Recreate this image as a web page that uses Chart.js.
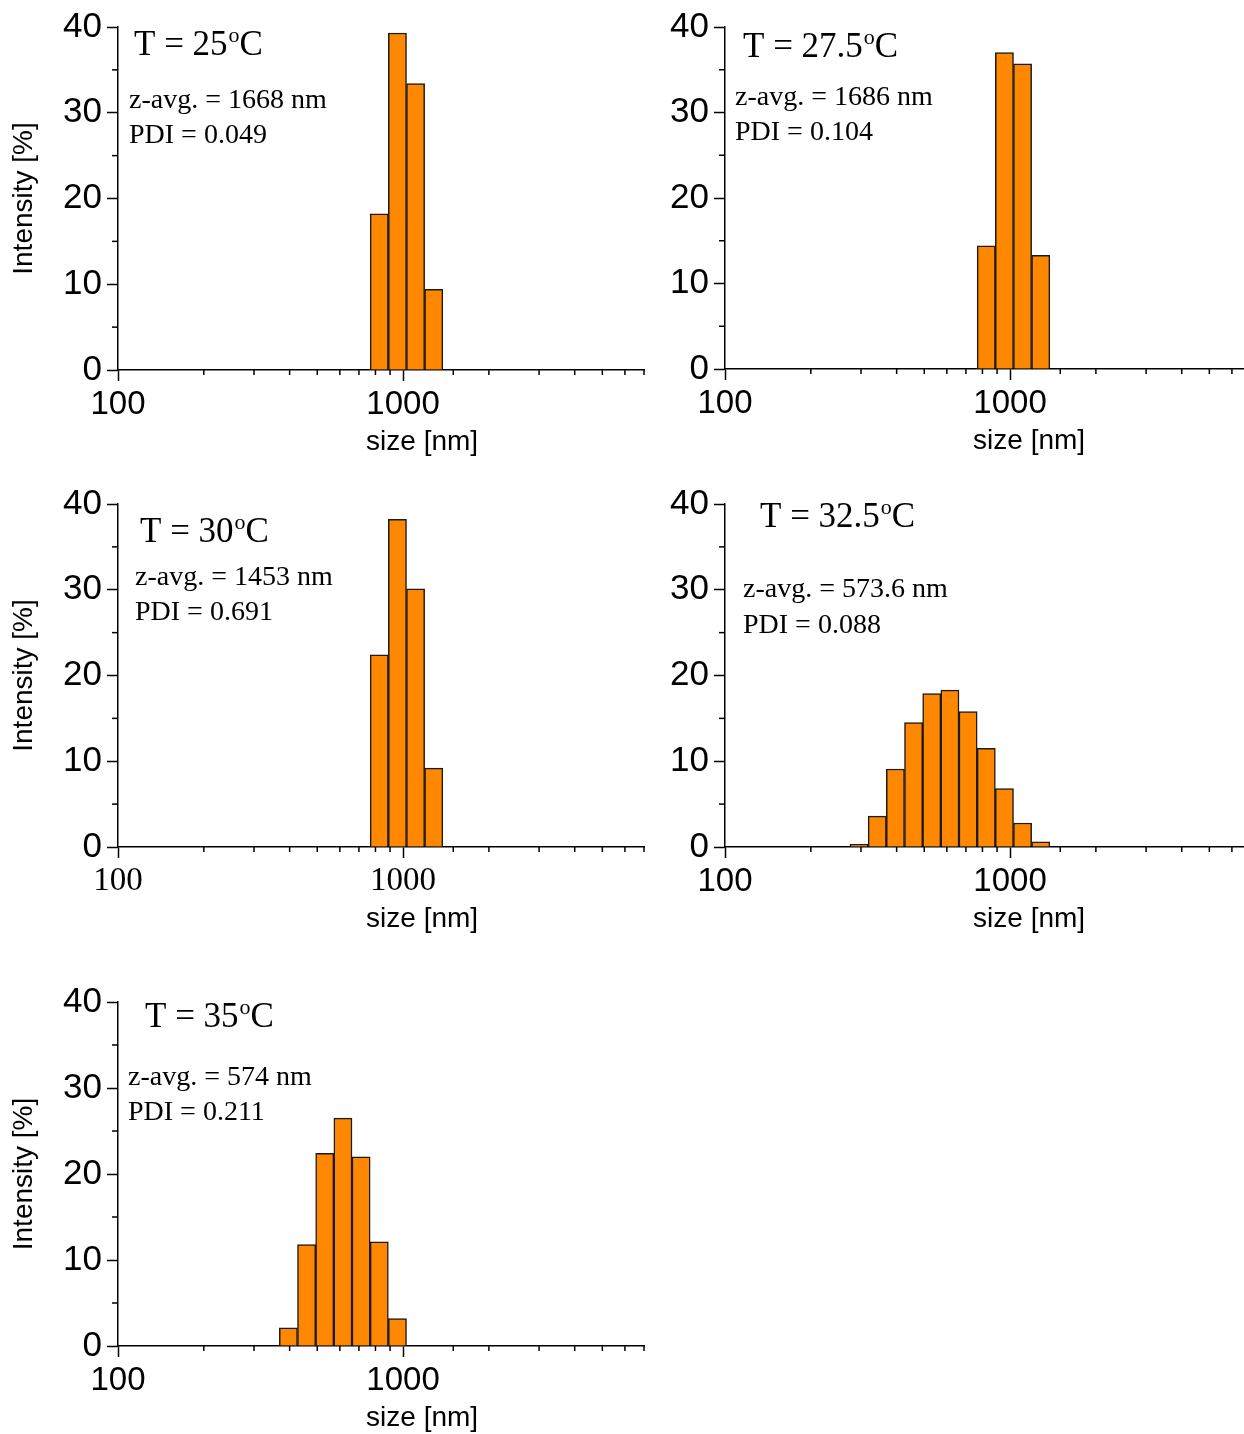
<!DOCTYPE html>
<html>
<head>
<meta charset="utf-8">
<script src="https://cdn.jsdelivr.net/npm/chart.js@4.4.0/dist/chart.umd.min.js"></script>
<style>
  html, body { margin: 0; padding: 0; background: #fff; overflow: hidden; }
  body { width: 1244px; height: 1434px; position: relative; }
  canvas { position: absolute; }
</style>
</head>
<body>
<canvas id="c1" width="660" height="470" style="left:0;top:0"></canvas>
<canvas id="c2" width="660" height="470" style="left:610px;top:0"></canvas>
<canvas id="c3" width="660" height="470" style="left:0;top:477px"></canvas>
<canvas id="c4" width="660" height="470" style="left:610px;top:477px"></canvas>
<canvas id="c5" width="660" height="459" style="left:0;top:975px"></canvas>
<script>
// DLS size distributions (intensity %), Malvern size classes in nm
const temps = ['25', '27.5', '30', '32.5', '35'];
const zAvg = ['1668', '1686', '1453', '573.6', '574'];
const pdi = ['0.049', '0.104', '0.691', '0.088', '0.211'];

const sizes25 = [825.0, 955.4, 1106, 1281];
const intensity25 = [18.2, 39.3, 33.4, 9.4];
const sizes275 = [825.0, 955.4, 1106, 1281];
const intensity275 = [14.4, 37.0, 35.7, 13.3];
const sizes30 = [825.0, 955.4, 1106, 1281];
const intensity30 = [22.4, 38.2, 30.1, 9.2];
const sizes325 = [295.3, 342.0, 396.1, 458.7, 531.2, 615.1, 712.4, 825.0, 955.4, 1106, 1281];
const intensity325 = [0.3, 3.6, 9.1, 14.5, 17.9, 18.3, 15.8, 11.5, 6.8, 2.8, 0.6];
const sizes35 = [396.1, 458.7, 531.2, 615.1, 712.4, 825.0, 955.4];
const intensity35 = [2.1, 11.8, 22.4, 26.5, 22.0, 12.1, 3.2];

const xTickLabels = [100, 1000];
const yTickLabels = [0, 10, 20, 30, 40];

const allSizes = [sizes25, sizes275, sizes30, sizes325, sizes35];
const allIntensity = [intensity25, intensity275, intensity30, intensity325, intensity35];

const SANS = '"Liberation Sans", Arial, sans-serif';
const SERIF = '"Liberation Serif", "Times New Roman", serif';

// page layout of each panel (axis origin in page pixels, text anchors in page pixels)
const panels = [
  { id: 'c1', left: 0,   top: 0,   axisX: 118, axisTop: 27,   axisBottom: 370,  yTitle: true,  serifX: false,
    tAt: [134, 55],   zAt: [129, 108],  pAt: [129, 143] },
  { id: 'c2', left: 610, top: 0,   axisX: 725, axisTop: 27,   axisBottom: 369,  yTitle: false, serifX: false,
    tAt: [743, 57],   zAt: [735, 105],  pAt: [735, 140] },
  { id: 'c3', left: 0,   top: 477, axisX: 118, axisTop: 504,  axisBottom: 847,  yTitle: true,  serifX: true,
    tAt: [140, 542],  zAt: [135, 585],  pAt: [135, 620] },
  { id: 'c4', left: 610, top: 477, axisX: 725, axisTop: 504,  axisBottom: 847,  yTitle: false, serifX: false,
    tAt: [760, 527],  zAt: [743, 597],  pAt: [743, 633] },
  { id: 'c5', left: 0,   top: 975, axisX: 118, axisTop: 1002, axisBottom: 1346, yTitle: true,  serifX: false,
    tAt: [145, 1027], zAt: [128, 1085], pAt: [128, 1120] }
];

const X_MIN = 100, X_MAX = 7000;
const AXIS_LEN = 526; // pixels from 100 to 7000 nm

// minor ticks, x title and the text notes
const extrasPlugin = {
  id: 'extras',
  afterDraw(chart, args, opts) {
    const ctx = chart.ctx;
    const xs = chart.scales.x, ys = chart.scales.y;
    const p = opts.panel, i = opts.index;
    ctx.save();
    ctx.strokeStyle = '#000';
    ctx.lineWidth = 1.5;
    xs.ticks.forEach(t => {
      if (xTickLabels.includes(t.value)) return;
      const px = xs.getPixelForValue(t.value);
      ctx.beginPath(); ctx.moveTo(px, xs.top); ctx.lineTo(px, xs.top + 5); ctx.stroke();
    });
    ys.ticks.forEach(t => {
      if (yTickLabels.includes(t.value)) return;
      const py = ys.getPixelForValue(t.value);
      ctx.beginPath(); ctx.moveTo(ys.right, py); ctx.lineTo(ys.right - 6, py); ctx.stroke();
    });

    ctx.fillStyle = '#000';
    ctx.textAlign = 'center';
    ctx.textBaseline = 'middle';
    ctx.font = '28px ' + SANS;
    ctx.fillText('size [nm]', xs.getPixelForValue(1000) + 19, xs.top + 72);

    ctx.textAlign = 'left';
    ctx.textBaseline = 'alphabetic';
    const ox = p.left, oy = p.top;
    // T = xx oC with superscript o
    let tx = p.tAt[0] - ox, ty = p.tAt[1] - oy;
    ctx.font = '35px ' + SERIF;
    const head = 'T = ' + temps[i];
    ctx.fillText(head, tx, ty);
    tx += ctx.measureText(head).width + 1;
    ctx.font = '22px ' + SERIF;
    ctx.fillText('o', tx, ty - 13);
    tx += ctx.measureText('o').width;
    ctx.font = '35px ' + SERIF;
    ctx.fillText('C', tx, ty);

    ctx.font = '28px ' + SERIF;
    ctx.fillText('z-avg. = ' + zAvg[i] + ' nm', p.zAt[0] - ox, p.zAt[1] - oy);
    ctx.fillText('PDI = ' + pdi[i], p.pAt[0] - ox, p.pAt[1] - oy);
    ctx.restore();
  }
};

panels.forEach((p, i) => {
  const canvas = document.getElementById(p.id);
  const W = canvas.width, H = canvas.height;
  const yWidth = p.axisX - p.left;
  const xHeight = H - (p.axisBottom - p.top);
  const sizes = allSizes[i];
  const points = sizes.map((s, k) => ({ x: s, y: allIntensity[i][k] }));
  // one size class wide: log step between neighbouring classes, in pixels
  const binPx = AXIS_LEN * Math.log10(sizes[1] / sizes[0]) / Math.log10(X_MAX / X_MIN);

  new Chart(canvas, {
    type: 'bar',
    data: {
      datasets: [{
        data: points,
        backgroundColor: '#FF8800',
        borderColor: '#1a1a1a',
        borderWidth: 1.5,
        barThickness: binPx
      }]
    },
    plugins: [extrasPlugin],
    options: {
      responsive: false,
      animation: false,
      layout: { padding: { left: 0, top: p.axisTop - p.top, right: W - yWidth - AXIS_LEN, bottom: 0 } },
      plugins: {
        legend: { display: false },
        tooltip: { enabled: false },
        extras: { panel: p, index: i }
      },
      scales: {
        x: {
          type: 'logarithmic',
          min: X_MIN,
          max: X_MAX,
          offset: false,
          afterFit(scale) { scale.height = xHeight; },
          border: { display: true, color: '#000', width: 1.5 },
          grid: {
            drawOnChartArea: false,
            offset: false,
            tickLength: 11,
            tickWidth: 1.5,
            tickColor: c => xTickLabels.includes(c.tick && c.tick.value) ? '#000' : 'rgba(0,0,0,0)'
          },
          ticks: {
            autoSkip: false,
            maxRotation: 0,
            padding: 4,
            color: '#000',
            font: { size: 33, family: p.serifX ? SERIF : SANS },
            callback: v => xTickLabels.includes(v) ? String(v) : ''
          }
        },
        y: {
          min: 0,
          max: 40,
          afterFit(scale) { scale.width = yWidth; },
          border: { display: true, color: '#000', width: 1.5 },
          grid: {
            drawOnChartArea: false,
            tickLength: 11,
            tickWidth: 1.5,
            tickColor: c => yTickLabels.includes(c.tick && c.tick.value) ? '#000' : 'rgba(0,0,0,0)'
          },
          ticks: {
            stepSize: 5,
            autoSkip: false,
            padding: 5,
            color: '#000',
            font: { size: 35, family: SANS },
            callback: v => yTickLabels.includes(v) ? String(v) : ''
          },
          title: {
            display: p.yTitle,
            text: 'Intensity [%]',
            color: '#000',
            font: { size: 28, family: SANS },
            padding: { top: 7, bottom: 0 }
          }
        }
      }
    }
  });
});
</script>
</body>
</html>
